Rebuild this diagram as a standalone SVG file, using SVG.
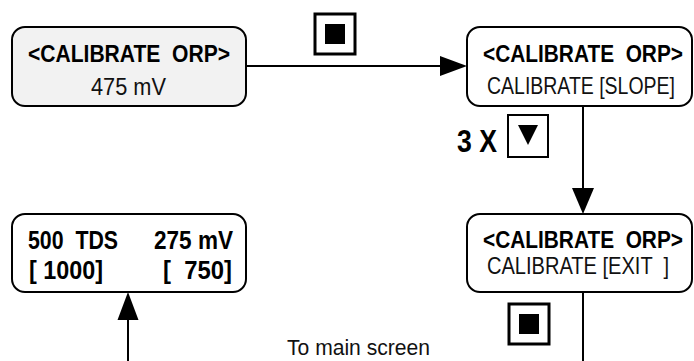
<svg xmlns="http://www.w3.org/2000/svg" width="694" height="361" viewBox="0 0 694 361">
<style>
.box{fill:#fff;stroke:#000;stroke-width:2}
.gray{fill:#f2f2f2}
.t{font-family:"Liberation Sans","Arial",sans-serif;fill:#111;white-space:pre}
.b{font-weight:bold;fill:#000}
.ln{stroke:#000;stroke-width:2;fill:none}
.ah{fill:#000;stroke:none}
.btn{fill:#fff;stroke:#000;stroke-width:3}
</style>
<rect width="694" height="361" fill="#fff"/>
<g id="connectors">
<line class="ln" x1="246" y1="66" x2="442" y2="66"/>
<polygon class="ah" points="440,56 467,66 440,76"/>
<line class="ln" x1="583" y1="106" x2="583" y2="190"/>
<polygon class="ah" points="572,188 594,188 583,214"/>
<line class="ln" x1="583" y1="292" x2="583" y2="361"/>
<line class="ln" x1="128" y1="361" x2="128" y2="318"/>
<polygon class="ah" points="117.5,320 138.5,320 128,292"/>
</g>
<g id="node-cal-orp">
<rect class="box gray" x="12" y="27" width="234" height="79" rx="13"/>
<text class="t b" transform="matrix(1,0,0,1.2,28,62)" font-size="20" textLength="202" lengthAdjust="spacingAndGlyphs">&lt;CALIBRATE  ORP&gt;</text>
<text class="t" transform="matrix(1,0,0,1.2,91,95)" font-size="20" textLength="75" lengthAdjust="spacingAndGlyphs">475 mV</text>
</g>
<g id="node-slope">
<rect class="box" x="467" y="27" width="225" height="79" rx="13"/>
<text class="t b" transform="matrix(1,0,0,1.2,483,62)" font-size="20" textLength="200" lengthAdjust="spacingAndGlyphs">&lt;CALIBRATE  ORP&gt;</text>
<text class="t" transform="matrix(1,0,0,1.2,487,94)" font-size="20" textLength="188" lengthAdjust="spacingAndGlyphs">CALIBRATE [SLOPE]</text>
</g>
<g id="node-exit">
<rect class="box" x="467" y="214" width="225" height="78" rx="13"/>
<text class="t b" transform="matrix(1,0,0,1.2,483,248)" font-size="20" textLength="200" lengthAdjust="spacingAndGlyphs">&lt;CALIBRATE  ORP&gt;</text>
<text class="t" transform="matrix(1,0,0,1.2,487,274)" font-size="20" textLength="182" lengthAdjust="spacingAndGlyphs">CALIBRATE [EXIT  ]</text>
</g>
<g id="node-main">
<rect class="box" x="12" y="214" width="234" height="78" rx="13"/>
<text class="t b" transform="matrix(1,0,0,1.2,28,249)" font-size="21" textLength="90" lengthAdjust="spacingAndGlyphs">500  TDS</text>
<text class="t b" transform="matrix(1,0,0,1.2,154,249)" font-size="21" textLength="79" lengthAdjust="spacingAndGlyphs">275 mV</text>
<text class="t b" transform="matrix(1,0,0,1.2,29,279)" font-size="21" textLength="74" lengthAdjust="spacingAndGlyphs">[ 1000]</text>
<text class="t b" transform="matrix(1,0,0,1.2,163,279)" font-size="21" textLength="69" lengthAdjust="spacingAndGlyphs">[  750]</text>
</g>
<g id="btn-enter-1">
<rect class="btn" x="315" y="14" width="40" height="40"/>
<rect x="325" y="24" width="20" height="20" fill="#000"/>
</g>
<g id="btn-down">
<text class="t b" transform="matrix(1,0,0,1.2,457,152)" font-size="26" textLength="40" lengthAdjust="spacingAndGlyphs">3 X</text>
<rect x="508" y="115" width="40" height="42" fill="#fff" stroke="#000" stroke-width="2"/>
<polygon points="518,125 538,125 528,145" fill="#000"/>
</g>
<g id="btn-enter-2">
<rect class="btn" x="509" y="304" width="40" height="40"/>
<rect x="519" y="314" width="20" height="20" fill="#000"/>
</g>
<text id="label-main" class="t" transform="matrix(1,0,0,1.2,287,355)" font-size="19" textLength="143" lengthAdjust="spacingAndGlyphs">To main screen</text>
</svg>
